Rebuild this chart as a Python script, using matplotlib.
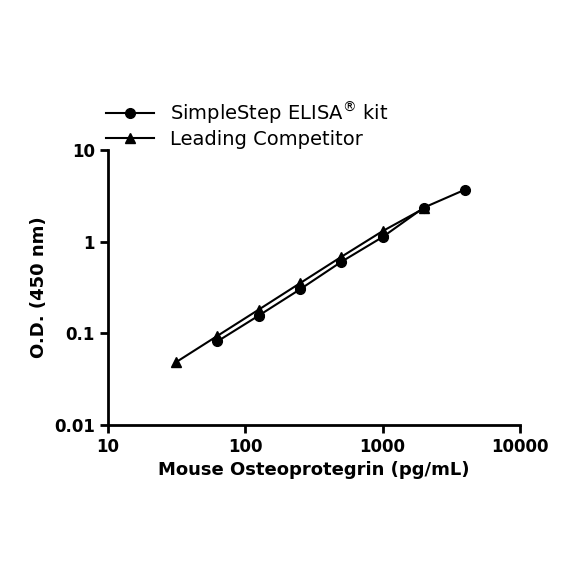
import matplotlib
matplotlib.use("Agg")
import matplotlib.pyplot as plt

conc_ss = [62.5, 125, 250, 500, 1000, 2000, 4000]
od_ss = [0.081, 0.155, 0.30, 0.60, 1.12, 2.35, 3.7]
conc_lc = [31.25, 62.5, 125, 250, 500, 1000, 2000]
od_lc = [0.048, 0.093, 0.18, 0.35, 0.68, 1.30, 2.30]

fig = plt.figure(figsize=(5.84, 5.84), dpi=100)
ax = fig.add_axes([0.185, 0.273, 0.705, 0.47])

ax.plot(conc_ss, od_ss, "-o", color="black", lw=1.5, ms=7, label="SimpleStep ELISA$^{\\circledR}$ kit")
ax.plot(conc_lc, od_lc, "-^", color="black", lw=1.5, ms=7, label="Leading Competitor")

ax.set_xscale("log")
ax.set_yscale("log")
ax.set_xlim(10, 10000)
ax.set_ylim(0.01, 10)
ax.set_xticks([10, 100, 1000, 10000])
ax.set_xticklabels(["10", "100", "1000", "10000"])
ax.set_yticks([0.01, 0.1, 1, 10])
ax.set_yticklabels(["0.01", "0.1", "1", "10"])
ax.minorticks_off()
for s in ["top", "right"]:
    ax.spines[s].set_visible(False)
for s in ["left", "bottom"]:
    ax.spines[s].set_linewidth(2)
ax.tick_params(width=2, length=6, labelsize=12)
for t in ax.get_xticklabels() + ax.get_yticklabels():
    t.set_fontweight("bold")

ax.set_xlabel("Mouse Osteoprotegrin (pg/mL)", fontsize=13, fontweight="bold")
ax.set_ylabel("O.D. (450 nm)", fontsize=13, fontweight="bold")

ax.legend(loc="lower left", bbox_to_anchor=(-0.025, 0.975), frameon=False, fontsize=14,
          handlelength=2.5, borderaxespad=0, labelspacing=0.2)

fig.savefig("out.png", dpi=100)
